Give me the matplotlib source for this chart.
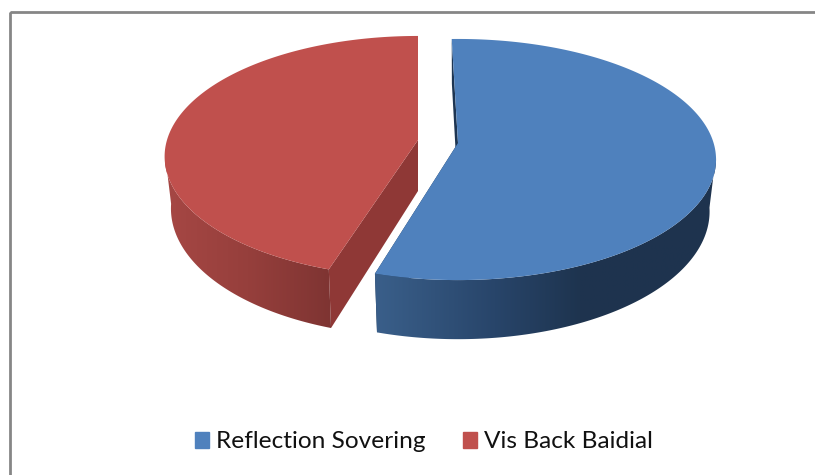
import numpy as np
import matplotlib
matplotlib.use('Agg')
import matplotlib.pyplot as plt
from matplotlib.colors import LinearSegmentedColormap
from matplotlib.patches import Patch, Polygon, Rectangle

# Pie data
labels = ['Reflection Sovering', 'Vis Back Baidial']
shares = [55, 45]
top_colors = ['#4f81bd', '#c0504d']
cut_colors = ['#1d3552', '#8f3836']

# Shape of the tilted pie, in pixels
radius_y = 118.3
persp = 0.137
depth = 51.0
shrink = 0.975


def rim(angle, cx, cy, radius_x, drop=0.0, scale=1.0):
    # angle in degrees, clockwise from the back of the pie
    u = np.sin(np.radians(angle))
    v = np.cos(np.radians(angle))
    w = 1 + persp * v
    return cx + scale * radius_x * u / w, cy - radius_y * v / w + drop / w


def draw_slice(ax, start, sweep, cx, cy, radius_x, top, cut, wall_cmap):
    ang = np.linspace(start, start + sweep, 400)

    # flat cut faces first
    for a in (start, start + sweep):
        x0, y0 = rim(a, cx, cy, radius_x)
        x1, y1 = rim(a, cx, cy, radius_x, drop=depth, scale=shrink)
        ax.add_patch(Polygon([(cx, cy), (x0, y0), (x1, y1), (cx, cy + depth)],
                             color=cut, lw=0, zorder=2))

    # outer wall, gradient image clipped to the wall outline
    front = ang[np.cos(np.radians(ang)) < -0.1]
    xs0, ys0 = rim(front, cx, cy, radius_x)
    xs1, ys1 = rim(front, cx, cy, radius_x, drop=depth, scale=shrink)
    outline = Polygon(list(zip(xs0, ys0)) + list(zip(xs1[::-1], ys1[::-1])),
                      transform=ax.transData, facecolor='none', lw=0)
    ax.add_patch(outline)
    left, right = min(xs0.min(), xs1.min()), max(xs0.max(), xs1.max())
    grad = np.linspace(0, 1, 256).reshape(1, -1)
    img = ax.imshow(grad, cmap=wall_cmap, aspect='auto', zorder=3,
                    extent=(left, right, ys1.max() + 2, ys0.min() - 2))
    img.set_clip_path(outline)

    # top face
    xs, ys = rim(ang, cx, cy, radius_x)
    ax.add_patch(Polygon([(cx, cy)] + list(zip(xs, ys)), color=top, lw=0, zorder=4))


fig = plt.figure(figsize=(8.15, 4.75), dpi=100)
ax = fig.add_axes([0, 0, 1, 1])

# chart frame
ax.add_patch(Rectangle((9.5, 12), 820, 480, fill=False, edgecolor='#868686', lw=2))

blue_wall = LinearSegmentedColormap.from_list(
    'blue_wall', [(0, '#3a5f8a'), (0.35, '#28456a'), (0.6, '#1e344f'), (1, '#1e334e')])
red_wall = LinearSegmentedColormap.from_list(
    'red_wall', [(0, '#a64744'), (0.5, '#963f3c'), (1, '#7e3432')])

blue_sweep = shares[0] / sum(shares) * 360
red_sweep = shares[1] / sum(shares) * 360

draw_slice(ax, -1.6, blue_sweep, 458, 143, 255.6, top_colors[0], cut_colors[0], blue_wall)
draw_slice(ax, -red_sweep, red_sweep, 418, 140, 251, top_colors[1], cut_colors[1], red_wall)

handles = [Patch(color=c, label=l) for c, l in zip(top_colors, labels)]
ax.legend(handles=handles, loc='center', bbox_to_anchor=(424, 442),
          bbox_transform=ax.transData, ncol=2, frameon=False,
          prop={'family': 'Lato', 'size': 17.6}, handlelength=0.58, handleheight=0.6,
          handletextpad=0.3, columnspacing=1.5, labelcolor='#111111')

ax.set_xlim(0, 815)
ax.set_ylim(475, 0)
ax.axis('off')

fig.savefig('out.png', dpi=100)
